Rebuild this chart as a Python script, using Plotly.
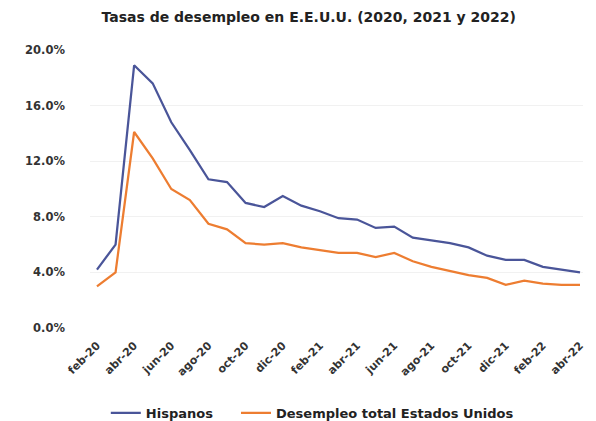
import plotly.graph_objects as go

months = ["feb-20", "mar-20", "abr-20", "may-20", "jun-20", "jul-20", "ago-20", "sep-20",
          "oct-20", "nov-20", "dic-20", "ene-21", "feb-21", "mar-21", "abr-21", "may-21",
          "jun-21", "jul-21", "ago-21", "sep-21", "oct-21", "nov-21", "dic-21", "ene-22",
          "feb-22", "mar-22", "abr-22"]

hispanos = [4.2, 6.0, 18.9, 17.6, 14.8, 12.8, 10.7, 10.5, 9.0, 8.7, 9.5, 8.8, 8.4, 7.9,
            7.8, 7.2, 7.3, 6.5, 6.3, 6.1, 5.8, 5.2, 4.9, 4.9, 4.4, 4.2, 4.0]

total_eeuu = [3.0, 4.0, 14.1, 12.2, 10.0, 9.2, 7.5, 7.1, 6.1, 6.0, 6.1, 5.8, 5.6, 5.4,
              5.4, 5.1, 5.4, 4.8, 4.4, 4.1, 3.8, 3.6, 3.1, 3.4, 3.2, 3.1, 3.1]

tick_labels = months[::2]
y_ticks = [0, 4, 8, 12, 16, 20]
y_tick_text = ["0.0%", "4.0%", "8.0%", "12.0%", "16.0%", "20.0%"]

font_family = "DejaVu Sans, sans-serif"

fig = go.Figure()
fig.add_trace(go.Scatter(x=months, y=hispanos, mode="lines",
                         name="Hispanos\u00a0\u00a0\u00a0\u00a0",
                         line=dict(color="#4a5599", width=2.25)))
fig.add_trace(go.Scatter(x=months, y=total_eeuu, mode="lines",
                         name="Desempleo total Estados Unidos",
                         line=dict(color="#ED7D31", width=2.25)))

fig.update_layout(
    width=596, height=421,
    margin=dict(l=90, r=10, t=50, b=93),
    paper_bgcolor="white", plot_bgcolor="white",
    title=dict(text="Tasas de desempleo en E.E.U.U. (2020, 2021 y 2022)",
               x=0.518, xanchor="center", y=1 - 17 / 421, yanchor="middle",
               xref="container", yref="container",
               font=dict(family=font_family, size=14, color="#222222", weight="bold")),
    font=dict(family=font_family, color="#333333"),
    showlegend=True,
    legend=dict(orientation="h", x=0.524, xanchor="center", y=1 - 413 / 421,
                yanchor="middle", xref="container", yref="container",
                font=dict(size=13, color="#222222", weight="bold"),
                itemwidth=30, tracegroupgap=0),
)

fig.update_xaxes(
    type="category", categoryorder="array", categoryarray=months,
    range=[-0.375, 26.16],
    tickmode="array", tickvals=tick_labels, ticktext=tick_labels,
    tickangle=-45, tickfont=dict(size=11, color="#333333", weight="bold"),
    showgrid=False, showline=False, zeroline=False, ticks="", ticklabelstandoff=8,
)
fig.update_yaxes(
    range=[0, 20], tickmode="array", tickvals=y_ticks, ticktext=y_tick_text,
    tickfont=dict(size=11.5, color="#333333", weight="bold"),
    showgrid=True, gridcolor="#f1f1f1", gridwidth=1,
    showline=False, zeroline=False, ticks="", ticklabelstandoff=24,
)

fig.write_html("out.html")
